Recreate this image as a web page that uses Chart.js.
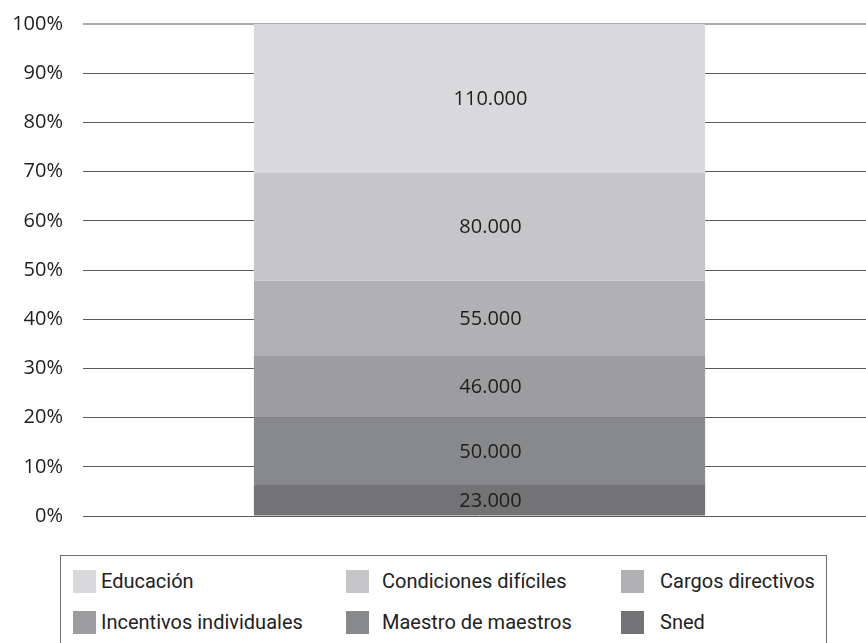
<!DOCTYPE html>
<html>
<head>
<meta charset="utf-8">
<script src="https://cdn.jsdelivr.net/npm/chart.js@4"></script>
<style>
  html, body { margin: 0; padding: 0; background: #fff; overflow: hidden; }
  #wrap { position: relative; width: 876px; height: 530px; }
  #legend {
    position: absolute; left: 60px; top: 555px; width: 767px; height: 110px;
    border: 1px solid #6e6e6e; box-sizing: border-box;
    font-family: Roboto, "Open Sans", sans-serif; font-size: 20px; color: #222;
  }
  .item { position: absolute; display: flex; align-items: center; height: 24px; }
  .item span.box { width: 23px; height: 23px; }
</style>
</head>
<body>
<div id="wrap"><canvas id="chart"></canvas></div>
<div id="legend"></div>
<script>
// top to bottom, same order as the legend
const categories = ['Educación', 'Condiciones difíciles', 'Cargos directivos',
  'Incentivos individuales', 'Maestro de maestros', 'Sned'];
const amounts = [110000, 80000, 55000, 46000, 50000, 23000];
const colors = ['#d9d9db', '#c6c6c8', '#b1b1b3', '#9d9d9f', '#88898b', '#737375'];
const yTicks = [0, 10, 20, 30, 40, 50, 60, 70, 80, 90, 100];

const total = amounts.reduce((a, b) => a + b, 0);

function fmt(n) {
  return String(n).replace(/\B(?=(\d{3})+(?!\d))/g, '.');
}

// stacked from the bottom up, so the list is reversed
const datasets = categories.map((name, i) => ({
  label: name,
  data: [amounts[i] / total * 100],
  raw: amounts[i],
  backgroundColor: colors[i],
  barPercentage: 0.569,
  categoryPercentage: 1
})).reverse();

const valueLabels = {
  id: 'valueLabels',
  afterDatasetsDraw(chart) {
    const ctx = chart.ctx;
    ctx.save();
    ctx.font = '20px "Open Sans", sans-serif';
    ctx.fillStyle = '#1e1e1e';
    ctx.textAlign = 'center';
    ctx.textBaseline = 'middle';
    chart.data.datasets.forEach((ds, i) => {
      const el = chart.getDatasetMeta(i).data[0];
      ctx.fillText(fmt(ds.raw), el.x + 11, (el.y + el.base) / 2 + 1);
    });
    ctx.restore();
  }
};

new Chart(document.getElementById('chart'), {
  type: 'bar',
  data: { labels: [''], datasets: datasets },
  options: {
    responsive: true,
    maintainAspectRatio: false,
    animation: false,
    layout: { padding: { top: 24, bottom: 14, left: 0, right: 0 } },
    plugins: { legend: { display: false }, tooltip: { enabled: false } },
    scales: {
      x: { stacked: true, display: false },
      y: {
        stacked: true,
        min: 0,
        max: 100,
        afterBuildTicks(scale) { scale.ticks = yTicks.map(v => ({ value: v })); },
        afterFit(scale) {
          scale.width = 83;
          scale.paddingTop = 0;
          scale.paddingBottom = 0;
        },
        border: { display: false },
        grid: {
          drawTicks: false,
          color: c => c.tick && c.tick.value === 100 ? '#a9a9a9' : '#5a5a5a',
          lineWidth: c => c.tick && c.tick.value === 100 ? 2 : 1
        },
        ticks: {
          padding: 20,
          color: '#1e1e1e',
          font: { family: '"Open Sans", sans-serif', size: 20 },
          callback: v => v + '%'
        }
      }
    }
  },
  plugins: [valueLabels]
});

// legend: three columns, two rows
const legend = document.getElementById('legend');
const colX = [12, 285, 560];
const textGap = [5, 13, 16];
const rowY = [13, 54];
categories.forEach((name, i) => {
  const item = document.createElement('div');
  item.className = 'item';
  item.style.left = colX[i % 3] + 'px';
  item.style.top = rowY[Math.floor(i / 3)] + 'px';
  const box = document.createElement('span');
  box.className = 'box';
  box.style.background = colors[i];
  box.style.marginRight = textGap[i % 3] + 'px';
  const txt = document.createElement('span');
  txt.textContent = name;
  item.appendChild(box);
  item.appendChild(txt);
  legend.appendChild(item);
});
</script>
</body>
</html>
